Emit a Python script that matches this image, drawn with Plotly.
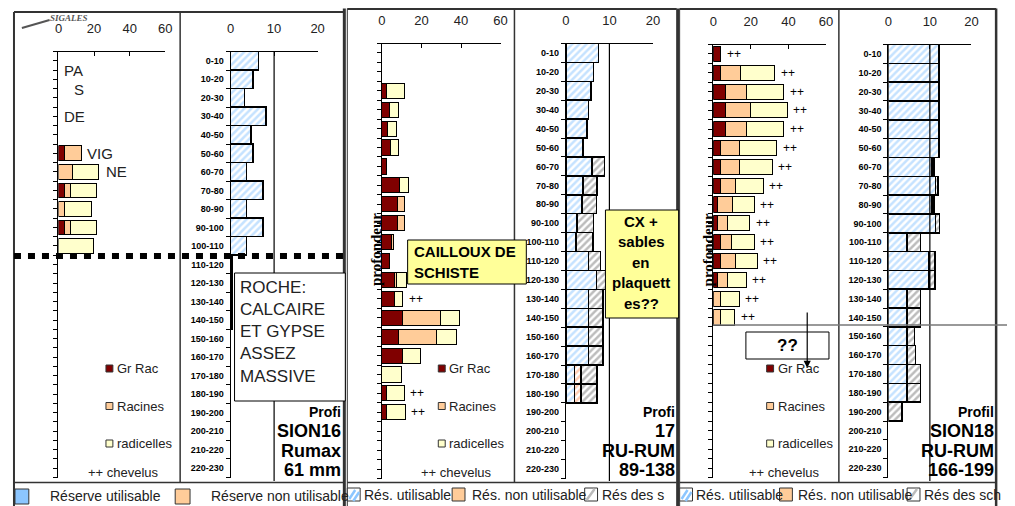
import plotly.graph_objects as go

# the page body keeps its default 8px margin, so the figure is drawn 8px smaller
OFF = 8
W, H = 1015 - OFF, 506 - OFF

# Data

rows = ["0-10", "10-20", "20-30", "30-40", "40-50", "50-60", "60-70", "70-80", "80-90",
        "90-100", "100-110", "110-120", "120-130", "130-140", "140-150", "150-160",
        "160-170", "170-180", "180-190", "190-200", "200-210", "210-220", "220-230"]
N = None

# Profil SION16 - racines (Gr Rac, Racines, radicelles)
p1_gr = [N, N, N, N, N, 3.2, N, 3.3, N, 3.3, N] + [N] * 12
p1_rac = [N, N, N, N, N, 9.8, 8.0, 3.7, 3.6, 3.7, N] + [N] * 12
p1_rad = [N, N, N, N, N, N, 14.7, 14.6, 14.7, 14.6, 19.8] + [N] * 12
# Profil SION16 - réserve utilisable
p1_ru = [6.4, 5.2, 3.2, 8.1, 4.7, 5.2, 3.7, 7.5, 3.7, 7.5, 3.7, 0.3, 0.3, 0.3, 0.3] + [N] * 8

# Profil 17
p2_gr = [N, N, 2.2, 3.8, 3.0, 4.2, 2.2, 8.8, 8.0, 8.0, 5.0, 3.8, 6.3, 6.3, 10.5, 8.3, 10.5,
         N, 2.2, 2.2, N, N, N]
p2_rac = [N, N, N, N, N, N, N, N, 3.3, 3.3, 1.0, N, 1.0, N, 19.2, 19.2, N,
          N, N, N, N, N, N]
p2_rad = [N, N, 9.2, 4.7, 4.5, 4.3, N, 4.4, N, N, N, N, 5.0, 4.2, 9.5, 10.0, 8.8,
          9.7, 9.2, 9.5, N, N, N]
p2_chev = [13, 18, 19]
p2_ru = [7.5, 6.4, 5.8, 5.2, 4.8, 3.9, 6.0, 3.9, 3.7, 2.5, 2.3, 5.2, 7.0, 5.2, 5.2, 5.2, 5.2,
         2.0, 2.0, N, N, N, N]
p2_rnu = [N] * 17 + [1.5, 1.5] + [N] * 4
p2_rs = [N] * 6 + [2.9, 3.3, 3.3, 3.9, 3.9, 2.7, 2.5, 3.3, 3.3, 3.3, 3.3, 3.6, 3.6] + [N] * 4

# Profil SION18
p3_gr = [4.1, 4.1, 6.3, 6.3, 6.3, 4.1, 4.1, 4.1, 2.3, 2.3, 4.1, 4.1, 2.3, N, N] + [N] * 8
p3_rac = [N, 10.6, 11.5, 13.6, 11.5, 9.7, 9.7, 7.6, 7.9, 5.3, 5.8, 7.6, 5.3, 3.7, 3.7] + [N] * 8
p3_rad = [N, 18.0, 19.8, 19.6, 19.8, 19.9, 17.6, 14.8, 11.5, 11.8, 11.8, 11.8, 10.0, 10.0, 7.8] + [N] * 8
p3_chev = list(range(15))
p3_ru = [12.2] * 6 + [10.5, 11.3, 10.5, 11.3, 4.5, 9.8, 9.8, 4.5, 4.5, 4.5, 4.5, 4.5, 4.5, N, N, N, N]
p3_rs = [N] * 6 + [0.55, 0.6, 0.55, 1.0, 3.2, 1.4, 1.4, 3.2, 3.2, 1.8, 2.0, 3.2, 3.2, 3.3, N, N, N]

yidx = list(range(len(rows)))

DARK = "#800000"
PEACH = "#FFCC99"
PALE = "#FFFFCC"
BLUE = "#8CC6FF"
GREY = "#7A7A7A"


def X(px):
    return (px - OFF) / W


def Y(py):
    return 1 - (py - OFF) / H


fig = go.Figure()


def root_bars(xa, ya, gr, rac, rad):
    for vals, col in ((gr, DARK), (rac, PEACH), (rad, PALE)):
        fig.add_trace(go.Bar(x=vals, y=yidx, orientation="h", width=0.8,
                             xaxis=xa, yaxis=ya, showlegend=False,
                             marker=dict(color=col, line=dict(color="black", width=1))))


def hatch_bar(xa, ya, vals, fg):
    m = dict(color="white", line=dict(color="black", width=1.5),
             pattern=dict(shape="/", fgcolor=fg, bgcolor="white", size=5, solidity=0.5))
    fig.add_trace(go.Bar(x=vals, y=yidx, orientation="h", width=1.0,
                         xaxis=xa, yaxis=ya, showlegend=False, marker=m))


root_bars("x", "y", p1_gr, p1_rac, p1_rad)
hatch_bar("x2", "y2", p1_ru, BLUE)
root_bars("x3", "y3", p2_gr, p2_rac, p2_rad)
hatch_bar("x4", "y4", p2_ru, BLUE)
hatch_bar("x4", "y4", p2_rnu, "#FF9966")
hatch_bar("x4", "y4", p2_rs, GREY)
root_bars("x5", "y5", p3_gr, p3_rac, p3_rad)
hatch_bar("x6", "y6", p3_ru, BLUE)
hatch_bar("x6", "y6", p3_rs, GREY)

# axes: (x0px, x1px, top px, bottom px, max value, ticks, right chart)
axes = [
    (55, 163, 51.5, 477.5, 60, [0, 20, 40, 60], False),
    (229, 317, 51.5, 477.5, 20, [0, 10, 20], True),
    (382, 502, 43.5, 478.5, 60, [0, 20, 40, 60], False),
    (568, 656, 43.5, 478.5, 20, [0, 10, 20], True),
    (717, 831, 44.5, 477.5, 60, [0, 20, 40, 60], False),
    (894, 978, 44.5, 477.5, 20, [0, 10, 20], True),
]

lay = {}
for i, (x0, x1, t, b, mx, tv, right) in enumerate(axes):
    n = "" if i == 0 else str(i + 1)
    lay["xaxis" + n] = dict(domain=[X(x0), X(x1)], range=[0, mx], side="top",
                            anchor="y" + n, tickvals=tv, showline=True, linecolor="black",
                            linewidth=1, ticks="inside", ticklen=4, tickcolor="black",
                            showgrid=False, zeroline=False, ticklabelstandoff=12,
                            tickfont=dict(size=13, color="#222"), fixedrange=True)
    ya = dict(domain=[Y(b), Y(t)], range=[22.5, -0.5], anchor="x" + n, showline=True,
              linecolor="black", linewidth=1, showgrid=False, zeroline=False, fixedrange=True)
    if right:
        ya.update(tickvals=yidx, ticktext=rows, ticks="", ticklabelstandoff=4,
                  tickfont=dict(size=9, color="black", family="Liberation Sans", weight="bold"),
                  minor=dict(tick0=-0.5, dtick=1, ticks="outside", ticklen=4, tickcolor="black"))
    else:
        ya.update(tickvals=[k * 0.5 - 0.5 for k in range(47)], ticks="outside", ticklen=4,
                  tickcolor="black", showticklabels=False)
    lay["yaxis" + n] = ya

shapes = []
ann = []


def line(x0, y0, x1, y1, color="#333", width=2, dash=None):
    d = dict(type="line", xref="paper", yref="paper", x0=X(x0), y0=Y(y0), x1=X(x1), y1=Y(y1),
             line=dict(color=color, width=width))
    if dash:
        d["line"]["dash"] = dash
    shapes.append(d)


def rect(x0, y0, x1, y1, fill="white", color="black", width=1):
    shapes.append(dict(type="rect", xref="paper", yref="paper", x0=X(x0), y0=Y(y0), x1=X(x1),
                       y1=Y(y1), fillcolor=fill, line=dict(color=color, width=width)))


def text(x, y, s, size=13, anchor="left", bold=False, color="black", family=None, angle=0):
    f = dict(size=size, color=color)
    if bold:
        f["weight"] = "bold"
    if family:
        f["family"] = family
    ann.append(dict(xref="paper", yref="paper", x=X(x), y=Y(y), text=s, showarrow=False,
                    xanchor=anchor, yanchor="middle", font=f, textangle=angle))


# panel frames
line(10, 12, 343, 12)
line(10, 12, 10, 506)
line(344, 8.5, 344, 506, width=3)
line(347, 9, 680, 9)
line(347, 8.5, 347, 506, width=1)
line(681, 8.5, 681, 506, width=3)
line(683, 9, 1003, 9)
line(683, 8.5, 683, 506, width=1)
line(1003, 8.5, 1003, 506, width=2.5)
for a, b in ((10, 343), (347, 680), (683, 1003)):
    line(a, 482.5, b, 482.5, width=1.5)
line(178, 12, 178, 482, width=1.5)
line(516, 8, 516, 482, width=1.5)
line(844, 8, 844, 482, width=1.5)

# vertical line at 10 in right charts
for xa, top in (("x2", 51), ("x4", 43), ("x6", 44)):
    shapes.append(dict(type="line", xref=xa, yref="paper", x0=10, x1=10, y0=Y(top), y1=Y(481),
                       line=dict(color="black", width=1.2)))

# panel 1 notes
line(10, 256, 343, 256, color="black", width=6, dash="7px,7px")
rect(233, 273, 345, 401)
for k, s in enumerate(["ROCHE:", "CALCAIRE", "ET GYPSE", "ASSEZ", "MASSIVE"]):
    text(237, 287 + k * 22.3, s, size=17, color="#222")
for xx, yy, s in ((59, 70, "PA"), (69, 89, "S"), (59, 116, "DE"), (82, 153, "VIG"), (101, 171, "NE")):
    text(xx, yy, s, size=15, color="#222")

# panel 2 notes
rect(408, 240, 528, 284, fill="#FFFF99")
text(412, 251, "CAILLOUX DE", size=15, bold=True)
text(412, 272, "SCHISTE", size=15, bold=True)
rect(608, 210, 682, 318, fill="#FFFF99")
for k, s in enumerate(["CX +", "sables", "en", "plaquett", "es??"]):
    text(644, 221 + k * 20.6, s, size=15, bold=True, anchor="center")

# panel 3 notes
line(717, 325, 1015, 325, color="#777", width=1.5)
rect(750, 332, 834, 359)
text(792, 345, "??", size=17, bold=True, anchor="center")
ann.append(dict(xref="paper", yref="paper", x=X(812), y=Y(368), ax=0, ay=-57, text="",
                showarrow=True, arrowhead=2, arrowsize=1.2, arrowwidth=1.2, arrowcolor="black"))

# chevelus marks
for rl, gr, rac, rad, xa, ya in ((p2_chev, p2_gr, p2_rac, p2_rad, "x3", "y3"),
                                 (p3_chev, p3_gr, p3_rac, p3_rad, "x5", "y5")):
    for r in rl:
        tot = sum(v for v in (gr[r], rac[r], rad[r]) if v)
        ann.append(dict(xref=xa, yref=ya, x=tot, y=r, text="++", showarrow=False,
                        xanchor="left", xshift=4, font=dict(size=12, color="black")))

# profile titles
for xr, lines_ in ((343, ["Profi", "SION16", "Rumax", "61 mm"]),
                   (680, ["Profi", "17", "RU-RUM", "89-138"]),
                   (1003, ["Profil", "SION18", "RU-RUM", "166-199"])):
    text(xr, 412, lines_[0], size=14, bold=True, anchor="right")
    for k, s in enumerate(lines_[1:]):
        text(xr, 431 + k * 19.5, s, size=18, bold=True, anchor="right")

# profondeur labels
text(366, 250, "profondeur", size=15, bold=True, family="Liberation Serif", angle=-90)
text(702, 250, "profondeur", size=15, bold=True, family="Liberation Serif", angle=-90)

# root legends
for sx in (103, 439, 771):
    for k, (s, col) in enumerate((("Gr Rac", DARK), ("Racines", PEACH), ("radicelles", PALE))):
        yy = 368.5 + k * 37.5
        rect(sx, yy - 3.5, sx + 7, yy + 3.5, fill=col, color="#333", width=1)
        text(sx + 9, yy, s, size=13, color="#222")
    text(sx - 20, 472, "++ chevelus", size=13, color="#222")

# bottom legends
rect(11, 489, 25, 504, fill=BLUE, color="#333")
text(44, 496, "Réserve utilisable", size=14, color="#222")
rect(173, 489, 188, 504, fill=PEACH, color="#333")
text(207, 496, "Réserve non utilisable", size=14, color="#222")

for bx, tx, labels in (([347, 453, 587], [362, 471, 602], ["Rés. utilisable", "Rés. non utilisable", "Rés des s"]),
                       ([683, 784, 913], [698, 801, 928], ["Rés. utilisable", "Rés. non utilisable", "Rés des sch"])):
    rect(bx[0], 488, bx[0] + 13, 501, color="#333")
    line(bx[0] + 2, 499, bx[0] + 8, 490, color=BLUE, width=2.5)
    line(bx[0] + 6, 501, bx[0] + 12, 492, color=BLUE, width=2.5)
    rect(bx[1], 488, bx[1] + 13, 501, fill=PEACH, color="#333")
    rect(bx[2], 488, bx[2] + 13, 501, color="#333")
    line(bx[2] + 2, 500, bx[2] + 10, 489, color="#BBBBBB", width=2.5)
    for t, s in zip(tx, labels):
        text(t, 495, s, size=14, color="#222")

# logo
line(18, 28, 46, 20, color="#555", width=2)
text(44, 18, "<i>SIGALES</i>", size=9, bold=True, color="#555", family="Liberation Serif")

fig.update_layout(width=W, height=H, margin=dict(l=0, r=0, t=0, b=0),
                  paper_bgcolor="white", plot_bgcolor="rgba(0,0,0,0)",
                  barmode="stack", showlegend=False,
                  font=dict(family="Liberation Sans", color="black"),
                  shapes=shapes, annotations=ann, **lay)

fig.write_html("out.html")
